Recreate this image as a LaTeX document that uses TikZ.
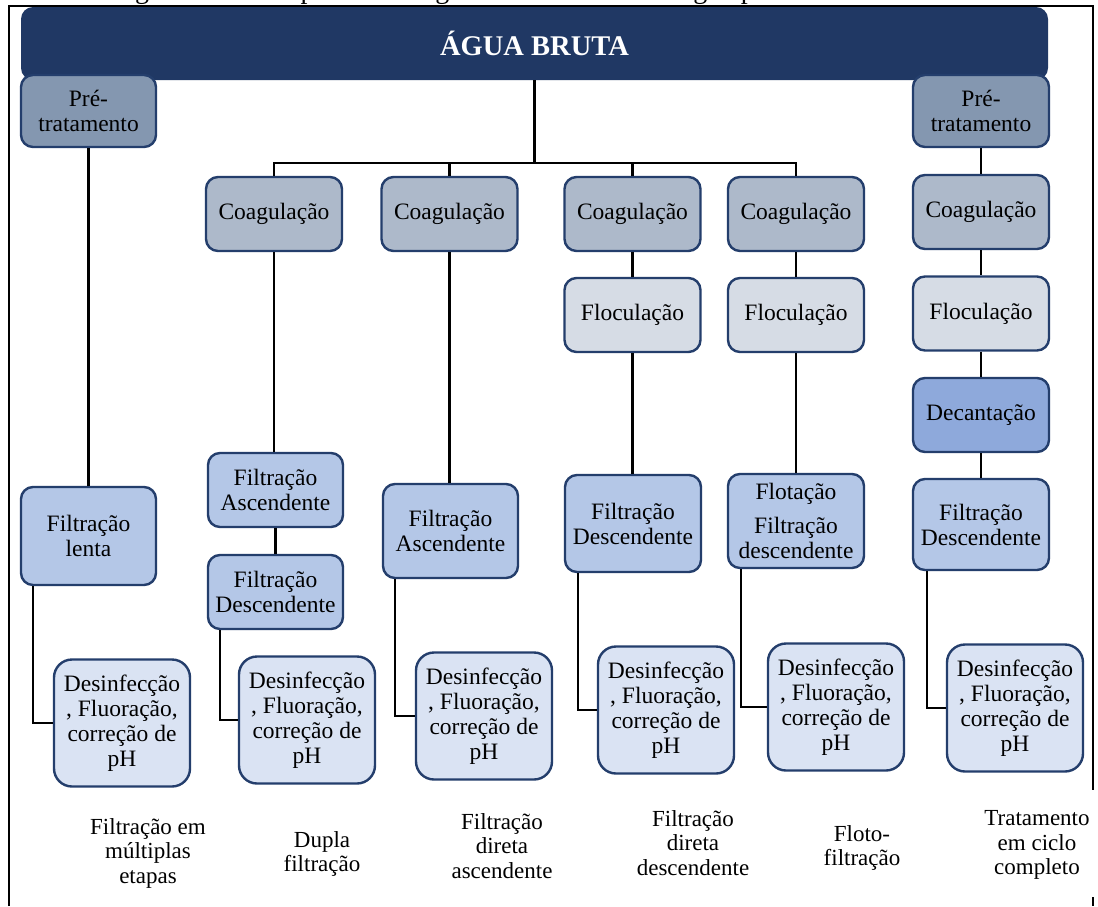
\documentclass[tikz,border=0pt]{standalone}
\usepackage{fontspec}
\setmainfont{LiberationSerif}[Extension=.ttf, UprightFont=*-Regular, BoldFont=*-Bold, ItalicFont=*-Italic, BoldItalicFont=*-BoldItalic]
\definecolor{navy}{RGB}{32,56,100}
\definecolor{bordc}{RGB}{36,62,108}
\definecolor{preC}{RGB}{132,151,176}
\definecolor{coagC}{RGB}{173,185,202}
\definecolor{flocC}{RGB}{214,220,229}
\definecolor{decC}{RGB}{142,169,219}
\definecolor{filtC}{RGB}{180,199,231}
\definecolor{desC}{RGB}{218,227,243}
\newcommand{\boxfont}{\fontsize{23.5}{25}\selectfont}
\tikzset{
  box/.style={draw=bordc, line width=2.4pt, rounded corners=12pt, align=center,
    font=\boxfont, inner sep=0pt, text=black},
  prebox/.style={box, fill=preC, minimum width=135pt, minimum height=72pt},
  coagbox/.style={box, fill=coagC, minimum width=136pt, minimum height=74pt},
  flocbox/.style={box, fill=flocC, minimum width=136pt, minimum height=74pt},
  decbox/.style={box, fill=decC, minimum width=136pt, minimum height=74pt},
  filtbox/.style={box, fill=filtC, minimum width=136pt},
  desbox/.style={box, fill=desC, rounded corners=18pt, minimum width=136pt, minimum height=127pt},
  conn/.style={draw=black, line width=2.2pt},
  frame/.style={draw=black, line width=2pt},
  lab/.style={align=center, font=\fontsize{23}{24.5}\selectfont, inner sep=0pt}
}
\begin{document}
\begin{tikzpicture}[x=1pt, y=-1pt]
\useasboundingbox (0,0) rectangle (1098,906);
\clip (0,0) rectangle (1098,906);
\fill[white] (0,0) rectangle (1098,906);
% cut caption
\node[anchor=base, inner sep=0pt, font=\fontsize{28}{30}\selectfont] (cap) at (553,-1.5)
  {Figura 3 – Principais tecnologias de tratamento de água para consumo humano};
% frame
\draw[frame] (9,906) -- (9,6) -- (1093,6) -- (1093,790);
\draw[frame] (1093,897) -- (1093,906);
% header
\node[fill=navy, rounded corners=12pt, minimum width=1027pt, minimum height=73pt,
  inner sep=0pt, text=white, font=\bfseries\fontsize{28.5}{30}\selectfont]
  (hdr) at (534.5,43.5) {ÁGUA BRUTA};
% column 1
\node[prebox] (pre1) at (88.5,111) {Pré-\\tratamento};
\node[filtbox, minimum width=135pt, minimum height=98pt] (fl1) at (88.5,536) {Filtração\\lenta};
\node[desbox] (d1) at (122,723) {Desinfecção\\, Fluoração,\\correção de\\pH};
% column 2
\node[coagbox] (c2) at (274,214) {Coagulação};
\node[filtbox, minimum width=135pt, minimum height=74pt] (fa2) at (275.5,490) {Filtração\\Ascendente};
\node[filtbox, minimum width=135pt, minimum height=74pt] (fd2) at (275.5,592) {Filtração\\Descendente};
\node[desbox] (d2) at (307,720) {Desinfecção\\, Fluoração,\\correção de\\pH};
% column 3
\node[coagbox] (c3) at (449.5,214) {Coagulação};
\node[filtbox, minimum width=135pt, minimum height=94pt] (fa3) at (450.5,531) {Filtração\\Ascendente};
\node[desbox] (d3) at (484,716) {Desinfecção\\, Fluoração,\\correção de\\pH};
% column 4
\node[coagbox] (c4) at (632.5,214) {Coagulação};
\node[flocbox] (fc4) at (632.5,315) {Floculação};
\node[filtbox, minimum height=97pt] (fd4) at (633,523.5) {Filtração\\Descendente};
\node[desbox] (d4) at (666,710) {Desinfecção\\, Fluoração,\\correção de\\pH};
% column 5
\node[coagbox] (c5) at (796,214) {Coagulação};
\node[flocbox] (fc5) at (796,315) {Floculação};
\node[filtbox, minimum height=94pt] (ff5) at (796,521) {Flotação\\[9pt]Filtração\\descendente};
\node[desbox] (d5) at (836,707) {Desinfecção\\, Fluoração,\\correção de\\pH};
% column 6
\node[prebox, minimum width=136pt] (pre6) at (981,111) {Pré-\\tratamento};
\node[coagbox] (c6) at (981,212) {Coagulação};
\node[flocbox] (fc6) at (981,313.5) {Floculação};
\node[decbox] (dc6) at (981,415) {Decantação};
\node[filtbox, minimum height=91pt] (fd6) at (981,524.5) {Filtração\\Descendente};
\node[desbox] (d6) at (1015,708) {Desinfecção\\, Fluoração,\\correção de\\pH};
% top tree
\coordinate (bus) at (534.5,163);
\draw[conn] (hdr.south) -- (bus);
\draw[conn] (c2.north) |- (bus);
\draw[conn] (c3.north) |- (bus);
\draw[conn] (c4.north) |- (bus);
\draw[conn] (c5.north) |- (bus);
% column connectors
\draw[conn] (pre1.south) -- (fl1.north);
\draw[conn] ([xshift=13pt]fl1.south west) |- (d1.west);
\draw[conn] (c2.south) -- (c2.south |- fa2.north);
\draw[conn] (fa2.south) -- (fd2.north);
\draw[conn] ([xshift=13pt]fd2.south west) |- (d2.west);
\draw[conn] (c3.south) -- (c3.south |- fa3.north);
\draw[conn] ([xshift=13pt]fa3.south west) |- (d3.west);
\draw[conn] (c4.south) -- (fc4.north);
\draw[conn] (fc4.south) -- (fc4.south |- fd4.north);
\draw[conn] ([xshift=14pt]fd4.south west) |- (d4.west);
\draw[conn] (c5.south) -- (fc5.north);
\draw[conn] (fc5.south) -- (ff5.north);
\draw[conn] ([xshift=14pt]ff5.south west) |- (d5.west);
\draw[conn] (pre6.south) -- (c6.north);
\draw[conn] (c6.south) -- (fc6.north);
\draw[conn] (fc6.south) -- (dc6.north);
\draw[conn] (dc6.south) -- (fd6.north);
\draw[conn] ([xshift=15pt]fd6.south west) |- (d6.west);
% bottom labels
\node[lab] (l1) at (148,853) {Filtração em\\múltiplas\\etapas};
\node[lab] (l2) at (322,854) {Dupla\\filtração};
\node[lab] (l3) at (502,846) {Filtração\\direta\\ascendente};
\node[lab] (l4) at (693,843) {Filtração\\direta\\descendente};
\node[lab] (l5) at (862,848) {Floto-\\filtração};
\node[lab] (l6) at (1037,845) {Tratamento\\em ciclo\\completo};
\end{tikzpicture}
\end{document}
